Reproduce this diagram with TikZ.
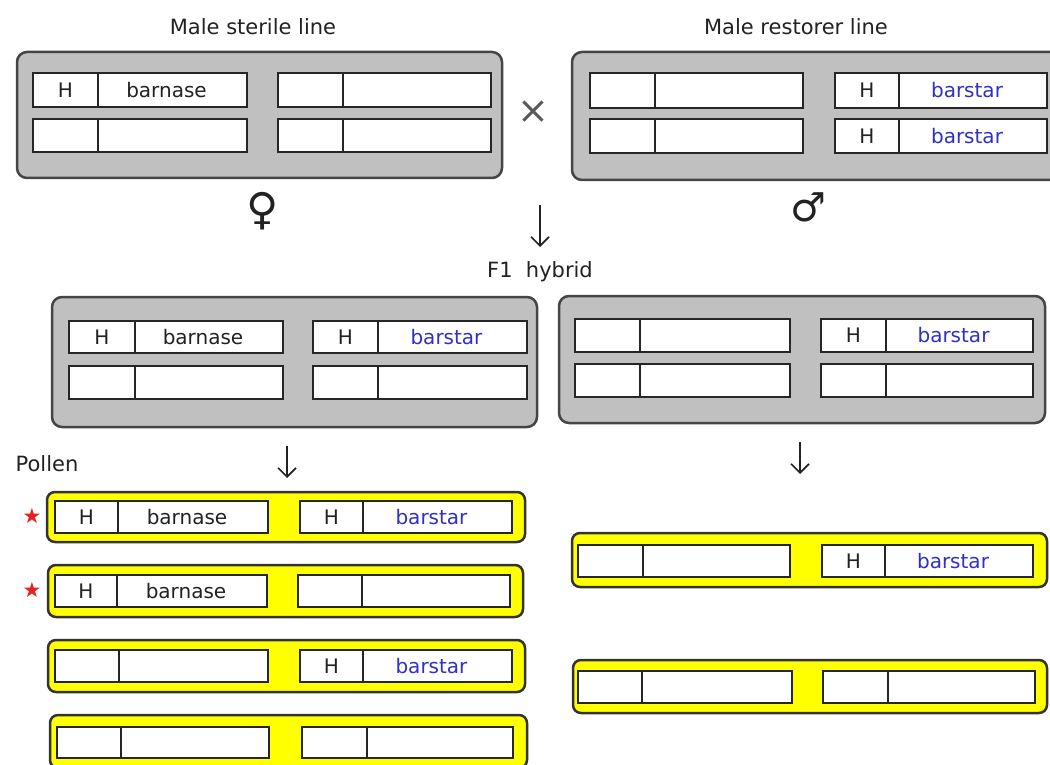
\documentclass[tikz,border=0pt]{standalone}
\usepackage{fontspec}
\setmainfont{DejaVu Sans}
\usetikzlibrary{arrows.meta}
\definecolor{boxgray}{HTML}{C0C0C0}
\definecolor{boxedge}{HTML}{454545}
\definecolor{txt}{HTML}{222222}
\definecolor{blu}{HTML}{3030C8}
\definecolor{yel}{HTML}{FFFF00}
\definecolor{starred}{HTML}{E82020}
\tikzset{
  graybox/.style={fill=boxgray, draw=boxedge, line width=2.5pt, rounded corners=10pt},
  yelbox/.style={fill=yel, draw=black!80, line width=2.5pt, rounded corners=8pt},
  cellbox/.style={fill=white, draw=black!85, line width=2pt},
  divline/.style={draw=black!85, line width=2pt},
  htext/.style={text=txt, font=\fontsize{20}{24}\selectfont, inner sep=0pt},
  blacktext/.style={text=txt, font=\fontsize{20}{24}\selectfont, inner sep=0pt},
  bluetext/.style={text=blu, font=\fontsize{20}{24}\selectfont, inner sep=0pt},
  titletext/.style={text=txt, font=\fontsize{21}{25}\selectfont, inner sep=0pt},
  symtext/.style={text=txt, inner sep=0pt},
  downarrow/.style={draw=txt, line width=1.6pt, -{Straight Barb[length=9pt,width=18pt,line width=1.6pt]}},
}
\newcommand\chromE[6]{%
  \draw[cellbox] (#2,#3) rectangle (#4,#5);
  \draw[divline] (#6,#3) -- (#6,#5);
}
\newcommand\chromL[9]{%
  \chromE{#1}{#2}{#3}{#4}{#5}{#6}
  \node[htext] (#1h) at ({(#2+#6)/2},{(#3+#5)/2}) {#7};
  \node[#9] (#1g) at ({(#6+#4)/2-6},{(#3+#5)/2}) {#8};
}
\begin{document}
\begin{tikzpicture}[x=1pt,y=-1pt]
\useasboundingbox (0,0) rectangle (1050,765);
\clip (0,0) rectangle (1050,765);
\fill[white] (0,0) rectangle (1050,765);

% ---------- parents ----------
\node[titletext] (tmsl) at (253,27) {Male sterile line};
\node[titletext] (tmrl) at (796,27) {Male restorer line};

\draw[graybox] (17,52) rectangle (502,178);
\chromL{p1a}{33}{73}{247}{107}{98}{H}{barnase}{blacktext}
\chromE{p1b}{278}{73}{491}{107}{343}
\chromE{p1c}{33}{119}{247}{152}{98}
\chromE{p1d}{278}{119}{491}{152}{343}

\node[symtext, text=black!65, font=\fontsize{38}{40}\selectfont] (cross) at (533,112) {×};

\draw[graybox] (572,52) rectangle (1068,180);
\chromE{p2a}{590}{73}{803}{108}{655}
\chromL{p2b}{835}{73}{1047}{108}{899}{H}{barstar}{bluetext}
\chromE{p2c}{590}{119}{803}{153}{655}
\chromL{p2d}{835}{119}{1047}{153}{899}{H}{barstar}{bluetext}

\node[symtext, font=\fontsize{44}{46}\selectfont] (female) at (263,211) {♀};
\node[symtext, font=\fontsize{40}{42}\selectfont] (male) at (808,207) {♂};

\coordinate (a1s) at (540,205);
\coordinate (a1e) at (540,247);
\draw[downarrow] (a1s) -- (a1e);
\node[titletext] (f1) at (540,272) {F1\ \ hybrid};

% ---------- F1 ----------
\draw[graybox] (52,297) rectangle (537,427);
\chromL{f1a}{69}{321}{283}{353}{135}{H}{barnase}{blacktext}
\chromL{f1b}{313}{321}{527}{353}{378}{H}{barstar}{bluetext}
\chromE{f1c}{69}{366}{283}{399}{135}
\chromE{f1d}{313}{366}{527}{399}{378}

\draw[graybox] (559,296) rectangle (1045,423);
\chromE{f2a}{575}{319}{790}{352}{640}
\chromL{f2b}{821}{319}{1033}{352}{886}{H}{barstar}{bluetext}
\chromE{f2c}{575}{364}{790}{397}{640}
\chromE{f2d}{821}{364}{1033}{397}{886}

\node[titletext] (pollen) at (47,464) {Pollen};
\coordinate (a2s) at (287,446);
\coordinate (a2e) at (287,478);
\draw[downarrow] (a2s) -- (a2e);
\coordinate (a3s) at (800,442);
\coordinate (a3e) at (800,474);
\draw[downarrow] (a3s) -- (a3e);

% ---------- pollen, left ----------
\draw[yelbox] (47,492) rectangle (525,542);
\chromL{g1a}{55}{501}{268}{533}{118}{H}{barnase}{blacktext}
\chromL{g1b}{300}{501}{512}{533}{363}{H}{barstar}{bluetext}
\node[symtext, text=starred, font=\fontsize{21}{22}\selectfont] (star1) at (32,516) {★};

\draw[yelbox] (48,565) rectangle (523,617);
\chromL{g2a}{55}{575}{267}{607}{117}{H}{barnase}{blacktext}
\chromE{g2b}{298}{575}{510}{607}{362}
\node[symtext, text=starred, font=\fontsize{21}{22}\selectfont] (star2) at (32,590) {★};

\draw[yelbox] (48,640) rectangle (525,692);
\chromE{g3a}{55}{650}{268}{682}{119}
\chromL{g3b}{300}{650}{512}{682}{363}{H}{barstar}{bluetext}

\draw[yelbox] (50,715) rectangle (527,768);
\chromE{g4a}{57}{727}{269}{758}{121}
\chromE{g4b}{302}{727}{513}{758}{367}

% ---------- pollen, right ----------
\draw[yelbox] (572,533) rectangle (1047,587);
\chromE{h1a}{578}{545}{790}{577}{643}
\chromL{h1b}{822}{545}{1033}{577}{885}{H}{barstar}{bluetext}

\draw[yelbox] (573,660) rectangle (1047,713);
\chromE{h2a}{578}{671}{792}{703}{642}
\chromE{h2b}{823}{671}{1035}{703}{888}
\end{tikzpicture}
\end{document}
